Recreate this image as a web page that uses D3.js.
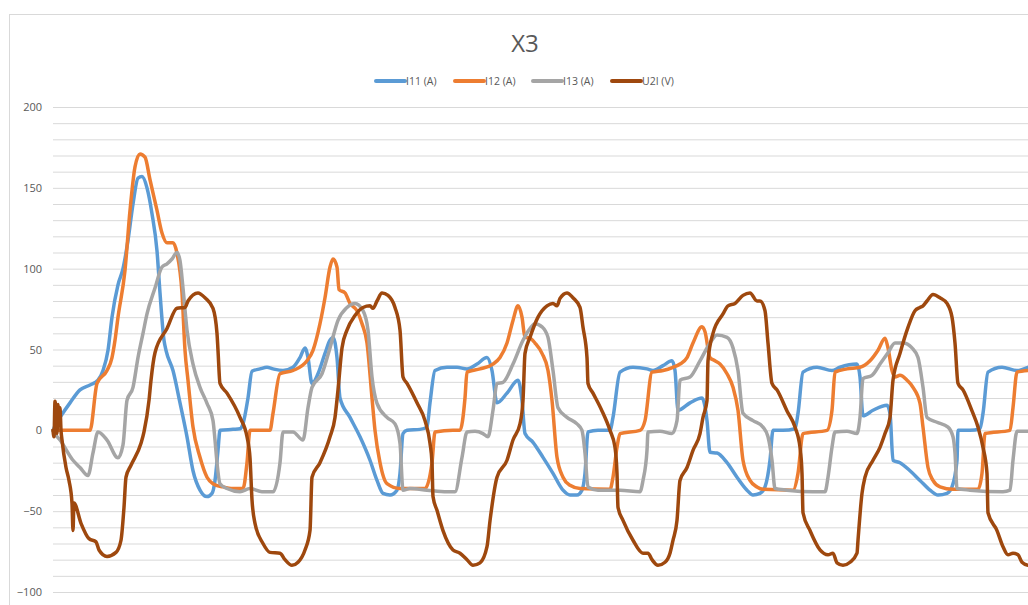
<!DOCTYPE html>
<html>
<head>
<meta charset="utf-8">
<script src="https://cdn.jsdelivr.net/npm/d3@7"></script>
<style>
  body { margin: 0; background: #fff; }
  text { font-family: "Open Sans", "Noto Sans", sans-serif; fill: #595959; }
  .grid line { stroke: #d9d9d9; }
  .grid .domain, .axis .domain { display: none; }
</style>
</head>
<body>
<svg id="chart"></svg>
<script>
// Data: [sample, value]
const seriesNames = ["I11 (A)", "I12 (A)", "I13 (A)", "U2I (V)"];
const yTicks = [-100, -50, 0, 50, 100, 150, 200];

const i11 = [[0,0],[3,4],[7,8],[17,17],[27,25],[37,28],[45,31],[50,37],[55,49.5],[59,70],[65,90],[70,100],[75,117.5],[80,140],[85,156],[89,157],[94,150],[99,134],[104,111],[107,85],[111,55.7],[113,49.5],[120,37],[127,17],[134,-4],[140,-25],[147,-37],[154,-41],[159,-39],[162,-31],[165,-12.4],[167,0],[180,0.6],[187,1],[190,4],[195,20],[199,36.5],[207,38],[214,39],[220,38],[230,37],[240,39],[247,45],[252,51],[255,45],[259,29],[265,35],[272,47.6],[277,55.7],[280,57.5],[284,45],[287,20],[297,8],[307,-4],[317,-18.5],[324,-31],[330,-39],[337,-40],[344,-37],[347,-26.6],[350,-2],[354,0],[367,0.6],[374,2],[377,17],[382,37],[394,39],[404,39],[414,38],[424,41],[434,45],[439,37],[444,17],[454,23],[465,31],[469,18.5],[472,-2],[480,-7.4],[490,-16.7],[500,-26.6],[510,-37],[517,-40],[524,-40],[529,-37],[532,-26.6],[535,-1],[545,0],[557,0],[560,8],[567,36],[580,39],[594,38],[600,37],[610,40],[619,43],[622,37],[625,12.4],[637,17],[649,20],[654,6],[657,-13.6],[664,-14],[674,-20],[684,-29],[694,-37],[700,-40],[707,-39],[712,-35],[717,-18.5],[720,0],[730,0],[742,1],[745,10.5],[750,36],[764,39],[779,37],[787,39],[804,41],[807,33],[810,9],[820,12.4],[834,15.5],[837,10.5],[840,-18.5],[847,-20],[857,-25],[867,-31],[877,-37],[885,-40],[894,-39],[899,-35],[904,-18.5],[905,0],[917,0],[927,1],[930,10.5],[935,36],[949,39],[964,37],[975,39]];

const i12 = [[0,0],[7,0],[37,0],[44,29],[54,37],[59,45],[62,55.7],[65,70],[72,99],[77,136],[82,163],[87,171],[92,169],[97,155],[104,136],[109,122],[114,116],[120,116],[124,109.5],[129,85],[132,49.5],[135,31],[140,2],[147,-16.7],[154,-29],[160,-33],[170,-35],[180,-36],[190,-36],[194,-20],[197,0],[217,0],[220,10.5],[227,35],[240,37],[254,43],[260,49.5],[267,66],[272,82],[277,101],[280,106],[284,101],[286,87],[292,85],[297,78.5],[304,74],[309,66],[314,54],[319,20],[322,0],[327,-20],[334,-33],[347,-36],[372,-36],[379,-20],[382,-1],[400,0],[407,0],[412,20],[414,36],[427,38],[440,41],[447,45],[454,54],[460,68],[465,77],[469,70],[472,57.5],[477,57],[482,54],[489,47.6],[495,37],[499,18.5],[504,-16.7],[510,-29],[517,-34],[527,-36],[557,-36.5],[560,-29],[564,-10.5],[567,-2],[587,0],[592,6],[599,36],[610,37],[620,39],[627,41],[634,45],[640,54],[649,64],[652,61],[657,45],[662,43],[667,41],[674,35],[680,26.6],[685,12.4],[690,-18.5],[697,-31],[704,-35],[710,-36.5],[740,-37],[745,-26.6],[750,-2],[774,0],[779,12.4],[782,36],[794,38],[807,39],[817,43],[825,49.5],[832,57],[835,51],[839,37],[842,33],[847,34],[854,31],[860,26.6],[867,16.7],[870,2],[875,-23],[880,-31],[887,-35],[900,-36.5],[925,-36.5],[929,-26.6],[932,-2],[957,0],[960,14],[964,36],[975,37]];

const i13 = [[0,0],[3,-3],[7,-6],[20,-18.5],[27,-23],[35,-28],[40,-14],[45,-1],[54,-6],[65,-17],[70,-9],[74,18.5],[80,26.6],[85,45],[90,60],[94,72],[102,88],[109,101],[114,103],[119,106],[124,110],[127,105],[130,88],[134,62],[140,41],[147,26.6],[154,16.7],[160,6],[162,-6],[164,-20],[167,-33],[174,-36],[187,-38],[197,-36],[209,-38],[220,-38],[227,-20],[230,-1],[240,-1],[250,-6],[255,14],[259,26.6],[269,35],[277,51],[285,68],[294,76],[302,78.5],[310,74],[315,62],[319,33],[324,16.7],[334,8],[342,4],[347,-8],[350,-37],[357,-36],[374,-37],[394,-38],[402,-38],[409,-16.7],[414,-1],[422,-0.6],[430,-2],[435,-4],[440,12.4],[444,29],[450,29.7],[460,41],[470,55.7],[477,63],[482,66],[489,64],[495,57.5],[500,37],[505,14],[514,8],[524,4],[529,0],[532,-14],[535,-35],[545,-37],[567,-37],[587,-38],[590,-31],[594,-12.4],[595,-1],[607,-0.6],[619,-2],[624,6],[627,31],[637,33],[647,43],[657,54],[664,59],[674,57.5],[680,51],[685,37],[690,10.5],[700,6],[710,2],[715,-4],[719,-18.5],[722,-36],[734,-37],[760,-38],[772,-38],[775,-29],[779,-10.5],[782,-1],[794,-0.6],[804,-2],[807,8],[810,32],[819,34],[827,41],[835,48],[842,54],[850,54],[859,51],[865,45],[870,26.6],[874,8],[884,5],[895,2],[900,-4],[902,-14],[904,-36],[917,-37],[950,-38],[957,-37],[960,-18.5],[964,-0.6],[975,-0.6]];

const u2i = [[0,0],[1,-4],[2,18],[3,12],[4,-2],[5,16],[6,4],[7,14],[8,0],[9,-6],[13,-23],[16,-31],[19,-45],[20,-62],[21,-45],[28,-57.5],[36,-67],[43,-69],[46,-74],[54,-78],[63,-75.5],[68,-68],[71,-47.6],[73,-29],[78,-21.6],[88,-8],[91,-1],[96,18.5],[98,31],[102,48],[114,63],[124,75.5],[132,76],[135,80],[145,85],[152,82],[160,75.5],[164,60],[165,49.5],[167,29],[174,23],[187,8],[194,-4],[197,-17],[199,-43],[202,-57.5],[210,-70],[217,-75.5],[227,-76],[232,-80],[239,-83.5],[245,-81.6],[252,-74],[257,-62],[259,-29],[267,-20],[277,-4],[282,8],[285,25],[289,51],[294,62],[302,71],[310,76],[317,77],[320,75.5],[324,80],[329,85],[335,83.5],[342,76],[347,62],[350,33],[354,29],[364,17],[372,6],[377,-8],[379,-20],[380,-41],[384,-49.5],[390,-62],[400,-74],[407,-76],[414,-80],[420,-83.5],[427,-82],[434,-72],[437,-56],[444,-29],[454,-18.5],[460,-6],[467,4],[470,18.5],[472,47.6],[477,57.5],[485,70],[494,77],[500,78.5],[504,77],[507,81.6],[514,85],[520,82],[527,76],[530,63.7],[534,45],[535,29],[540,23],[549,12],[557,0],[562,-10.5],[564,-26.6],[565,-47.6],[570,-55.7],[580,-68],[590,-76],[595,-76],[599,-80],[605,-83.5],[612,-81.6],[617,-76],[620,-68],[624,-55.7],[627,-31],[634,-23],[640,-12.4],[647,-2],[650,8],[654,18.5],[655,43],[660,60],[670,72],[675,77],[682,78.5],[690,83.5],[697,85],[704,80],[707,80],[712,74],[715,54],[719,29],[724,25],[734,12],[742,2],[747,-10.5],[749,-26.6],[750,-51],[757,-62],[767,-74],[775,-77],[780,-76],[784,-82],[790,-83.5],[797,-81.6],[804,-76],[805,-68],[809,-39],[812,-29],[820,-18.5],[827,-10.5],[832,-2],[837,8],[840,31],[847,47.6],[855,63.7],[862,74],[867,76],[870,77],[874,80],[880,84],[887,82],[894,78.5],[899,70],[902,54],[905,29],[910,25],[919,12],[925,2],[930,-10.5],[934,-26.6],[935,-51],[944,-62],[950,-72],[955,-77],[960,-76],[965,-77],[969,-81.6],[975,-83.5]];

const seriesData = [i11, i12, i13, u2i];
const colors = ["#5b9bd5", "#ed7d31", "#a5a5a5", "#9e480e"];

// Dimensions
const W = 1028, H = 605;
const margin = {left: 53, right: 0, top: 107, bottom: 13};
const width = W - margin.left - margin.right, height = H - margin.top - margin.bottom;

// Scales
const x = d3.scaleLinear().domain([0, 975]).range([0, width]);
const y = d3.scaleLinear().domain([-100, 200]).range([height, 0]);

const svg = d3.select("#chart").attr("width", W).attr("height", H);

// chart border
svg.append("rect")
    .attr("x", 9.5).attr("y", 14.5)
    .attr("width", W + 20).attr("height", H + 20)
    .attr("fill", "none").attr("stroke", "#d9d9d9");

// title
svg.append("text")
    .attr("x", 525).attr("y", 52)
    .attr("text-anchor", "middle")
    .style("font-size", "24px")
    .text("X3");

const g = svg.append("g").attr("transform", "translate(" + [margin.left, margin.top] + ")");

// gridlines
g.append("g").attr("class", "grid")
    .call(d3.axisLeft(y).tickValues(d3.range(-100, 201, 10)).tickSize(-width).tickFormat(""));

// y axis labels
g.append("g").attr("class", "axis")
    .attr("transform", "translate(-11,0)")
    .call(d3.axisLeft(y).tickValues(yTicks).tickSize(0).tickPadding(0))
    .call(a => a.selectAll("text").style("font-size", "11px").attr("fill", "#595959"));

// lines (smoothed without overshoot)
const line = d3.line().x(d => x(d[0])).y(d => y(d[1])).curve(d3.curveMonotoneX);
g.selectAll(".series")
    .data(seriesData)
  .enter().append("path")
    .attr("class", "series")
    .attr("d", line)
    .attr("fill", "none")
    .attr("stroke", (d, i) => colors[i])
    .attr("stroke-width", 3.5)
    .attr("stroke-linejoin", "round")
    .attr("stroke-linecap", "round");

// legend
const legendX = [376, 455, 533, 612];
const legend = svg.selectAll(".legend-item")
    .data(seriesNames)
  .enter().append("g")
    .attr("class", "legend-item")
    .attr("transform", (d, i) => "translate(" + [legendX[i], 81] + ")");
legend.append("line")
    .attr("x1", 0).attr("x2", 29)
    .attr("stroke", (d, i) => colors[i])
    .attr("stroke-width", 4)
    .attr("stroke-linecap", "round");
legend.append("text")
    .attr("x", 30).attr("y", 4)
    .style("font-size", "10.5px")
    .text(d => d);
</script>
</body>
</html>
